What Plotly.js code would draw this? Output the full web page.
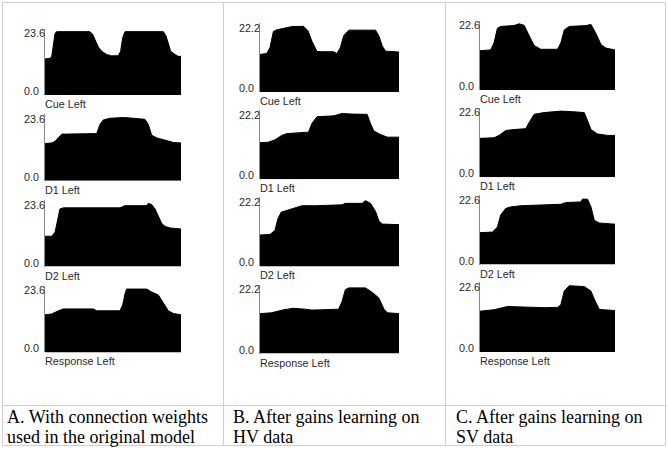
<!DOCTYPE html>
<html><head><meta charset="utf-8">
<script src="https://cdn.plot.ly/plotly-3.0.1.min.js"></script>
<style>html,body{margin:0;padding:0;background:#fff}#chart{width:668px;height:449px}</style>
</head><body><div id="chart"></div>
<script>
// ---- data ----
const rowNames = ['Cue Left', 'D1 Left', 'D2 Left', 'Response Left'];
const colMax = [23.6, 22.2, 22.6];
const colMaxLabels = ['23.6', '22.2', '22.6'];
const zeroLabel = '0.0';
const captionLine1 = ['A. With connection weights', 'B. After gains learning on', 'C. After gains learning on'];
const captionLine2 = ['used in the original model', 'HV data', 'SV data'];

// Column A: original weights
const aCueT = [0,3.7,4.9,6.1,7.4,8.6,33.1,35.0,36.8,39.2,41.7,45.3,49.0,53.9,55.6,57.1,58.8,87.0,89.0,90.7,92.4,95.6,98.0,100];
const aCueV = [13.4,13.7,14.2,18.2,23.0,23.6,23.6,22.6,20.7,17.9,16.3,15.1,14.6,14.6,16.3,21.3,23.6,23.6,22.0,18.8,16.3,15.1,14.4,14.4];
const aD1T = [0,4.9,7.4,9.8,12.3,15.9,38.0,40.4,42.9,47.8,57.6,65.0,73.5,76.0,78.4,82.1,89.5,94.4,100];
const aD1V = [13.9,14.1,14.7,16.0,17.4,17.4,17.6,21.0,22.7,23.3,23.6,23.3,22.9,21.0,17.0,16.0,15.0,14.3,14.1];
const aD2T = [0,4.9,7.4,9.1,11.0,13.5,55.1,58.8,74.8,76.0,78.4,80.9,83.3,85.8,88.2,91.9,100];
const aD2V = [11.3,11.3,12.8,17.1,21.5,21.9,21.9,22.7,22.7,23.6,23.1,21.5,19.0,16.1,15.0,14.4,14.0];
const aRespT = [0,4.9,9.8,13.5,35.5,38.0,55.1,57.1,58.8,60.0,74.8,78.4,83.3,87.0,90.7,94.4,100];
const aRespV = [14.0,14.3,15.5,16.2,16.2,15.5,15.5,17.6,21.8,23.6,23.6,22.5,21.4,18.3,15.5,14.5,14.0];

// Column B: after gains learning on HV data
const bCueT = [0,4.8,7.2,9.6,12.0,16.9,22.9,31.3,34.5,37.3,41.0,44.6,53.0,55.4,57.8,60.2,63.9,83.1,85.5,88.0,90.4,100];
const bCueV = [12.7,13.0,15.0,20.4,21.0,21.5,22.1,22.2,20.7,17.2,13.7,13.6,13.6,13.0,15.0,19.0,20.9,20.9,19.0,15.5,13.8,13.5];
const bD1T = [0,6.0,10.8,15.7,19.3,25.3,34.9,37.3,41.0,53.0,59.0,66.3,77.1,79.5,81.9,86.7,91.6,100];
const bD1V = [12.3,12.5,13.3,14.8,15.4,15.6,15.9,18.8,21.1,21.4,22.2,22.0,21.9,18.8,16.3,15.1,14.2,14.2];
const bD2T = [0,7.2,10.8,12.8,15.2,20.5,24.1,30.1,39.8,59.0,61.4,73.5,75.9,79.5,83.1,85.5,88.0,100];
const bD2V = [10.6,10.8,12.2,16.0,18.3,19.0,19.7,20.5,20.5,20.8,21.3,21.3,22.2,21.3,18.6,15.4,14.3,14.1];
const bRespT = [0,8.4,16.9,24.1,32.5,37.3,44.6,56.6,59.0,61.4,63.9,75.9,80.7,85.5,89.2,91.6,100];
const bRespV = [13.5,13.8,14.8,15.3,15.0,14.7,14.8,15.0,17.6,21.6,22.2,22.2,20.7,18.8,15.0,13.8,13.5];

// Column C: after gains learning on SV data
const cCueT = [0,7.9,10.4,12.9,15.3,25.2,29.0,32.7,36.4,40.1,45.0,57.4,59.9,62.4,66.1,78.5,82.2,85.9,89.6,93.3,100];
const cCueV = [13.4,13.7,16.1,21.1,21.7,22.0,22.6,22.1,18.6,15.2,13.9,13.9,16.1,20.5,21.7,22.0,22.4,19.3,15.5,14.3,13.7];
const cD1T = [0,10.4,14.1,19.1,25.2,33.9,36.4,40.1,47.5,59.9,68.6,77.2,79.7,82.2,87.1,94.6,100];
const cD1V = [13.3,13.5,14.3,16.0,16.3,16.6,18.7,21.5,22.1,22.6,22.4,22.1,19.3,16.3,14.8,14.3,14.3];
const cD2T = [0,9.2,12.9,15.3,19.1,22.8,30.2,42.6,59.9,63.6,74.8,76.0,79.7,82.2,84.7,88.4,100];
const cD2V = [10.9,11.1,12.8,16.9,19.2,19.7,20.1,20.3,20.6,21.2,21.4,22.4,22.3,19.7,15.1,14.2,13.8];
const cRespT = [0,10.4,20.3,32.7,47.5,57.4,59.9,62.4,66.1,77.2,82.1,85.9,88.4,100];
const cRespV = [13.9,14.4,15.5,15.2,15.1,15.2,16.1,20.8,22.6,22.3,20.8,16.8,14.5,14.1];

const series = [
  [[aCueT, aCueV], [aD1T, aD1V], [aD2T, aD2V], [aRespT, aRespV]],
  [[bCueT, bCueV], [bD1T, bD1V], [bD2T, bD2V], [bRespT, bRespV]],
  [[cCueT, cCueV], [cD1T, cD1V], [cD2T, cD2V], [cRespT, cRespV]]
];

// ---- layout geometry (pixels) ----
const W = 668, H = 449;
const geom = [
  {x0: 45, x1: 181, top: 28.5, h: 66.5, pitch: 85.8, labX: 22, capX: 5},
  {x0: 260, x1: 399, top: 23, h: 69, pitch: 87.2, labX: 236.5, capX: 230.5},
  {x0: 480, x1: 615, top: 20.5, h: 69.5, pitch: 87.3, labX: 456.5, capX: 453.5}
];
const px = v => v / W;
const py = v => 1 - v / H;

const traces = [];
const layout = {
  width: W, height: H,
  margin: {l: 0, r: 0, t: 0, b: 0},
  paper_bgcolor: '#ffffff', plot_bgcolor: 'rgba(0,0,0,0)',
  showlegend: false,
  font: {family: 'Liberation Sans, Arial, sans-serif', size: 11, color: '#222'},
  annotations: [], shapes: []
};
const sansFont = {family: 'Liberation Sans, Arial, sans-serif', size: 10.8, color: '#2a2a2a'};
const serifFont = {family: 'Liberation Serif, Times New Roman, serif', size: 18, color: '#000'};

let k = 0;
for (let c = 0; c < 3; c++) {
  const g = geom[c];
  for (let r = 0; r < 4; r++) {
    k++;
    const sfx = k === 1 ? '' : String(k);
    const top = g.top + r * g.pitch;
    const bot = top + g.h;
    traces.push({
      type: 'scatter', mode: 'lines',
      x: series[c][r][0], y: series[c][r][1],
      xaxis: 'x' + sfx, yaxis: 'y' + sfx,
      fill: 'tozeroy', fillcolor: '#000',
      line: {color: '#000', width: 1},
      hoverinfo: 'skip'
    });
    layout['xaxis' + sfx] = {
      domain: [px(g.x0), px(g.x1)], range: [0, 100], visible: false,
      anchor: 'y' + sfx, fixedrange: true
    };
    layout['yaxis' + sfx] = {
      domain: [py(bot), py(top)], range: [0, colMax[c] * 1.05],
      anchor: 'x' + sfx, showline: true, linecolor: '#8a8a8a', linewidth: 1,
      showgrid: false, zeroline: false, showticklabels: false, ticks: '', fixedrange: true
    };
    layout.annotations.push(
      {xref: 'paper', yref: 'paper', x: px(g.labX), y: py(top + 4.5), text: colMaxLabels[c],
       showarrow: false, xanchor: 'left', yanchor: 'middle', font: sansFont},
      {xref: 'paper', yref: 'paper', x: px(g.labX), y: py(bot - 4), text: zeroLabel,
       showarrow: false, xanchor: 'left', yanchor: 'middle', font: sansFont},
      {xref: 'paper', yref: 'paper', x: px(g.x0 - 2), y: py(bot + 9), text: rowNames[r],
       showarrow: false, xanchor: 'left', yanchor: 'middle', font: sansFont}
    );
  }
  layout.annotations.push(
    {xref: 'paper', yref: 'paper', x: px(g.capX), y: py(416.5), text: captionLine1[c],
     showarrow: false, xanchor: 'left', yanchor: 'middle', font: serifFont},
    {xref: 'paper', yref: 'paper', x: px(g.capX), y: py(436.5), text: captionLine2[c],
     showarrow: false, xanchor: 'left', yanchor: 'middle', font: serifFont}
  );
}

// table grid
const gridLine = {color: '#cfcfcf', width: 1};
const tl = 2.5, tr = 665.5, tt = 2.5, tb = 445.5;
layout.shapes.push(
  {type: 'rect', xref: 'paper', yref: 'paper', x0: px(tl), x1: px(tr), y0: py(tb), y1: py(tt), line: gridLine},
  {type: 'line', xref: 'paper', yref: 'paper', x0: px(223.5), x1: px(223.5), y0: py(tb), y1: py(tt), line: gridLine},
  {type: 'line', xref: 'paper', yref: 'paper', x0: px(445.5), x1: px(445.5), y0: py(tb), y1: py(tt), line: gridLine},
  {type: 'line', xref: 'paper', yref: 'paper', x0: px(tl), x1: px(tr), y0: py(405.5), y1: py(405.5), line: gridLine}
);

Plotly.newPlot('chart', traces, layout, {displayModeBar: false, staticPlot: true});
</script>
</body></html>
